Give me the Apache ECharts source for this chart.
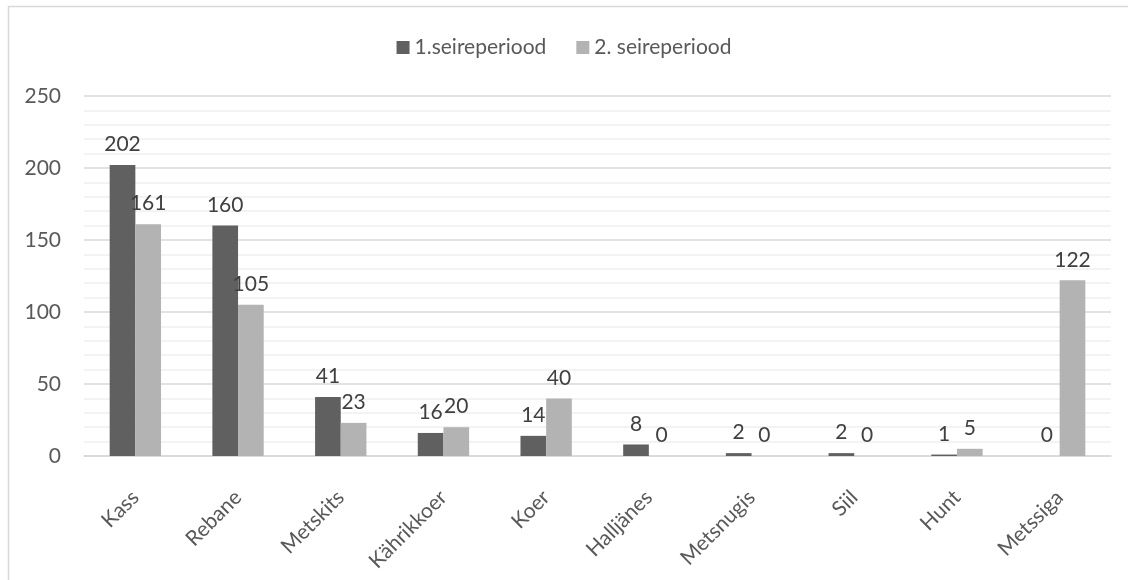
<!DOCTYPE html>
<html>
<head>
<meta charset="utf-8">
<script src="https://cdn.jsdelivr.net/npm/echarts@6/dist/echarts.min.js"></script>
<style>
  html, body { margin: 0; padding: 0; background: #fff; }
  #chart { width: 1128px; height: 580px; }
</style>
</head>
<body>
<div id="chart"></div>
<script>
// Species and counts for the two monitoring periods
const categories = ['Kass', 'Rebane', 'Metskits', 'Kährikkoer', 'Koer', 'Halljänes', 'Metsnugis', 'Siil', 'Hunt', 'Metssiga'];
const period1 = [202, 160, 41, 16, 14, 8, 2, 2, 1, 0];
const period2 = [161, 105, 23, 20, 40, 0, 0, 0, 5, 122];
const seriesNames = ['1.seireperiood', '2. seireperiood'];
const yTicks = { min: 0, max: 250, interval: 50 };

const FONT = 'Lato, "Open Sans", sans-serif';
const TEXT = '#595959';

const chart = echarts.init(document.getElementById('chart'));

const labelStyle = {
  show: true,
  position: 'top',
  distance: 10,
  color: '#404040',
  fontSize: 21,
  fontFamily: FONT
};

chart.setOption({
  animation: false,
  graphic: [{
    type: 'rect',
    shape: { x: 8.5, y: 6.5, width: 1140, height: 600 },
    style: { fill: 'none', stroke: '#d9d9d9', lineWidth: 1.5 },
    silent: true
  }],
  legend: {
    top: 32,
    left: 'center',
    itemWidth: 13,
    itemHeight: 13,
    itemGap: 30,
    icon: 'rect',
    textStyle: { color: TEXT, fontSize: 21, fontFamily: FONT },
    data: seriesNames
  },
  grid: { left: 84, right: 17, top: 96, bottom: 124 },
  xAxis: {
    type: 'category',
    data: categories,
    axisLine: { lineStyle: { color: '#d9d9d9', width: 1.5 } },
    axisTick: { show: false },
    axisLabel: {
      rotate: 45,
      color: TEXT,
      fontSize: 21,
      fontFamily: FONT,
      margin: 38,
      interval: 0
    }
  },
  yAxis: {
    type: 'value',
    min: yTicks.min,
    max: yTicks.max,
    interval: yTicks.interval,
    axisLine: { show: false },
    axisTick: { show: false },
    axisLabel: { color: TEXT, fontSize: 21, fontFamily: FONT, margin: 23 },
    splitLine: { lineStyle: { color: '#d9d9d9', width: 1.5 } },
    minorTick: { show: false, splitNumber: 5 },
    minorSplitLine: { show: true, lineStyle: { color: '#efefef', width: 1.5 } }
  },
  series: [
    {
      name: seriesNames[0],
      type: 'bar',
      data: period1,
      barWidth: '25%',
      barGap: '0%',
      itemStyle: { color: '#606060' },
      label: labelStyle
    },
    {
      name: seriesNames[1],
      type: 'bar',
      data: period2,
      barWidth: '25%',
      barGap: '0%',
      itemStyle: { color: '#b3b3b3' },
      label: labelStyle
    }
  ]
});
</script>
</body>
</html>
